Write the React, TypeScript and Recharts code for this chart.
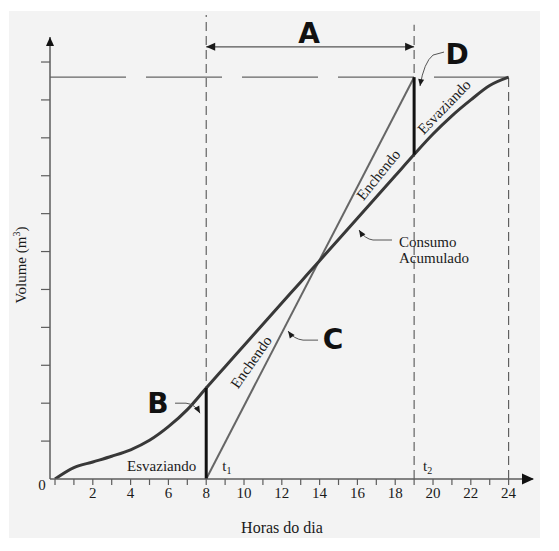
import {
  ComposedChart,
  Line,
  ReferenceDot,
  ReferenceLine,
  XAxis,
  YAxis,
} from "recharts";

// hours of the day and accumulated consumption (m3, arbitrary units of the y ticks)
const HOURS = [0, 1, 2, 3, 4, 5, 6, 7, 8, 9, 10, 11, 12, 13, 14, 15, 16, 17, 18, 19, 20, 21, 22, 23, 24];
const CONSUMO = [0, 0.3, 0.45, 0.6, 0.77, 1.02, 1.38, 1.83, 2.4, 2.96, 3.52, 4.08, 4.64, 5.2, 5.76, 6.32, 6.88, 7.44, 8.0, 8.56, 9.1, 9.58, 10.0, 10.38, 10.6];

// pumping (enchendo) between t1 and t2
const ENCH_HOURS = [8, 19];
const ENCH_VOLUME = [0, 10.6];

const X_LABELS = [2, 4, 6, 8, 10, 12, 14, 16, 18, 20, 22, 24];
const Y_TICKS = [1, 2, 3, 4, 5, 6, 7, 8, 9, 10, 11];

const T1 = 8;
const T2 = 19;
const END_HOUR = 24;
const MAX_VOLUME = 10.6;

const X_MIN = -0.265;
const X_MAX = 25.29;
const Y_MAX = 11.66;

const SERIF = "'Liberation Serif', 'Times New Roman', serif";
const HAND = "'DejaVu Sans', sans-serif";
const AXIS = "#5c5c5c";
const INK = "#1a1a1a";

const chartData = HOURS.map((h, i) => ({ h, consumo: CONSUMO[i] }));
const enchData = ENCH_HOURS.map((h, i) => ({ h, v: ENCH_VOLUME[i] }));
const consumoAt = (h: number) => CONSUMO[HOURS.indexOf(h)];

function head(x: number, y: number, ang: number, len = 8, half = 3.5) {
  const ca = Math.cos(ang);
  const sa = Math.sin(ang);
  const bx = x - len * ca;
  const by = y - len * sa;
  return `${x},${y} ${bx - half * sa},${by + half * ca} ${bx + half * sa},${by - half * ca}`;
}

function HourTick(props: any) {
  const { x, y, payload } = props;
  if (!X_LABELS.includes(payload.value)) return <g />;
  return (
    <text x={x} y={y} dy="0.71em" textAnchor="middle" fontSize={15} fontFamily={SERIF} fill={INK}>
      {payload.value}
    </text>
  );
}

// curved leader arrow, points relative to (cx, cy)
function leader(cx: number, cy: number, pts: number[][]) {
  const [a, b, c, t] = pts;
  const d = `M ${cx + a[0]} ${cy + a[1]} L ${cx + b[0]} ${cy + b[1]} Q ${cx + c[0]} ${cy + c[1]} ${cx + t[0]} ${cy + t[1]}`;
  const ang = Math.atan2(t[1] - c[1], t[0] - c[0]);
  return (
    <g>
      <path d={d} fill="none" stroke="#555" strokeWidth={1} />
      <polygon points={head(cx + t[0], cy + t[1], ang, 7, 3)} fill={INK} />
    </g>
  );
}

function Letter({ cx, cy, text }: { cx: number; cy: number; text: string }) {
  return (
    <text x={cx} y={cy} dy="0.36em" textAnchor="middle" fontSize={28} fontWeight={700} fontFamily={HAND} fill="#111">
      {text}
    </text>
  );
}

function RotLabel({ cx, cy, text, angle }: { cx: number; cy: number; text: string; angle: number }) {
  return (
    <text
      x={cx}
      y={cy}
      dy="0.35em"
      textAnchor="middle"
      fontSize={15}
      fontFamily={SERIF}
      fill={INK}
      transform={`rotate(${angle} ${cx} ${cy})`}
    >
      {text}
    </text>
  );
}

export default function App() {
  return (
    <div style={{ position: "relative", width: 543, height: 535 }}>
      <div
        style={{
          position: "absolute",
          left: 1,
          top: 3,
          width: 531,
          height: 527,
          background: "#f3f3f3",
        }}
      />
      <ComposedChart
        width={543}
        height={535}
        data={chartData}
        margin={{ top: 29, right: 18, bottom: 24, left: 0 }}
        style={{ position: "relative" }}
      >
        <XAxis
          dataKey="h"
          type="number"
          domain={[X_MIN, X_MAX]}
          allowDataOverflow
          ticks={HOURS}
          interval={0}
          tickSize={6}
          height={40}
          axisLine={{ stroke: AXIS, strokeWidth: 1.5 }}
          tickLine={{ stroke: AXIS, strokeWidth: 1.2 }}
          tick={<HourTick />}
          label={{
            content: (p: any) => (
              <text
                x={p.viewBox.x + 232}
                y={p.viewBox.y + 54}
                textAnchor="middle"
                fontSize={16}
                fontFamily={SERIF}
                fill={INK}
              >
                Horas do dia
              </text>
            ),
          }}
        />
        <YAxis
          type="number"
          domain={[0, Y_MAX]}
          allowDataOverflow
          ticks={Y_TICKS}
          width={42}
          tickSize={9}
          axisLine={{ stroke: AXIS, strokeWidth: 1.5 }}
          tickLine={{ stroke: AXIS, strokeWidth: 1.2 }}
          tick={() => <g />}
          label={{
            content: (p: any) => {
              const x = p.viewBox.x + 13;
              const y = p.viewBox.y + p.viewBox.height / 2 + 7;
              return (
                <text
                  x={x}
                  y={y}
                  dy="0.35em"
                  textAnchor="middle"
                  fontSize={15}
                  fontFamily={SERIF}
                  fill={INK}
                  transform={`rotate(-90 ${x} ${y})`}
                >
                  Volume (m<tspan dy={-6} fontSize={10}>3</tspan>
                  <tspan dy={6}>)</tspan>
                </text>
              );
            },
          }}
        />

        {/* reservoir capacity */}
        <ReferenceLine
          segment={[{ x: X_MIN, y: MAX_VOLUME }, { x: END_HOUR, y: MAX_VOLUME }]}
          stroke="#666"
          strokeWidth={1.2}
          strokeDasharray="76 20"
          ifOverflow="visible"
        />
        {/* t1, t2 and end of day */}
        <ReferenceLine
          segment={[{ x: T1, y: 0 }, { x: T1, y: 12.24 }]}
          stroke="#555"
          strokeWidth={1.1}
          strokeDasharray="9 5"
          ifOverflow="visible"
        />
        <ReferenceLine
          segment={[{ x: T2, y: 0 }, { x: T2, y: 11.98 }]}
          stroke="#555"
          strokeWidth={1.1}
          strokeDasharray="9 5"
          ifOverflow="visible"
        />
        <ReferenceLine
          segment={[{ x: END_HOUR, y: 0 }, { x: END_HOUR, y: MAX_VOLUME }]}
          stroke="#555"
          strokeWidth={1.1}
          strokeDasharray="9 5"
          ifOverflow="visible"
        />
        {/* A: pumping interval */}
        <ReferenceLine
          segment={[{ x: T1, y: 11.4 }, { x: T2, y: 11.4 }]}
          ifOverflow="visible"
          shape={(p: any) => (
            <g>
              <line x1={p.x1} y1={p.y1} x2={p.x2} y2={p.y2} stroke="#555" strokeWidth={1.2} />
              <polygon points={head(p.x1, p.y1, Math.PI, 9, 4)} fill={INK} />
              <polygon points={head(p.x2, p.y2, 0, 9, 4)} fill={INK} />
            </g>
          )}
        />

        <Line
          data={enchData}
          dataKey="v"
          type="linear"
          stroke="#666"
          strokeWidth={2}
          dot={false}
          isAnimationActive={false}
        />
        <Line
          dataKey="consumo"
          type="monotone"
          stroke="#383838"
          strokeWidth={3}
          dot={false}
          isAnimationActive={false}
        />

        {/* reservoir emptying at t1 and t2 */}
        <ReferenceLine
          segment={[{ x: T1, y: 0 }, { x: T1, y: consumoAt(T1) }]}
          stroke="#111"
          strokeWidth={3}
          ifOverflow="visible"
        />
        <ReferenceLine
          segment={[{ x: T2, y: consumoAt(T2) }, { x: T2, y: MAX_VOLUME }]}
          stroke="#111"
          strokeWidth={3}
          ifOverflow="visible"
        />

        {/* axis arrowheads */}
        <ReferenceDot
          x={X_MAX}
          y={0}
          r={0}
          ifOverflow="visible"
          shape={(p: any) => <polygon points={head(p.cx + 1, p.cy, 0, 12, 5.5)} fill="#111" />}
        />
        <ReferenceDot
          x={X_MIN}
          y={Y_MAX}
          r={0}
          ifOverflow="visible"
          shape={(p: any) => <polygon points={head(p.cx, p.cy, -Math.PI / 2, 9, 4)} fill="#111" />}
        />

        {/* texts */}
        <ReferenceDot
          x={0}
          y={0}
          r={0}
          ifOverflow="visible"
          shape={(p: any) => (
            <text x={p.cx - 13} y={p.cy + 11} textAnchor="middle" fontSize={15} fontFamily={SERIF} fill={INK}>
              0
            </text>
          )}
        />
        <ReferenceDot
          x={T1}
          y={0}
          r={0}
          ifOverflow="visible"
          shape={(p: any) => (
            <g fontSize={15} fontFamily={SERIF} fill={INK}>
              <text x={p.cx - 10} y={p.cy - 8} textAnchor="end">
                Esvaziando
              </text>
              <text x={p.cx + 16} y={p.cy - 8}>
                t<tspan dy={3} fontSize={10}>1</tspan>
              </text>
            </g>
          )}
        />
        <ReferenceDot
          x={T2}
          y={0}
          r={0}
          ifOverflow="visible"
          shape={(p: any) => (
            <text x={p.cx + 9} y={p.cy - 8} fontSize={15} fontFamily={SERIF} fill={INK}>
              t<tspan dy={3} fontSize={10}>2</tspan>
            </text>
          )}
        />
        <ReferenceDot
          x={10.37}
          y={3.09}
          r={0}
          ifOverflow="visible"
          shape={(p: any) => <RotLabel cx={p.cx} cy={p.cy} text="Enchendo" angle={-55} />}
        />
        <ReferenceDot
          x={17.1}
          y={8.03}
          r={0}
          ifOverflow="visible"
          shape={(p: any) => <RotLabel cx={p.cx} cy={p.cy} text="Enchendo" angle={-51} />}
        />
        <ReferenceDot
          x={20.58}
          y={9.82}
          r={0}
          ifOverflow="visible"
          shape={(p: any) => <RotLabel cx={p.cx} cy={p.cy} text="Esvaziando" angle={-46} />}
        />
        <ReferenceDot
          x={18.2}
          y={6.12}
          r={0}
          ifOverflow="visible"
          shape={(p: any) => (
            <g>
              <text x={p.cx} y={p.cy} fontSize={15} fontFamily={SERIF} fill={INK}>
                Consumo
              </text>
              <text x={p.cx} y={p.cy + 16} fontSize={15} fontFamily={SERIF} fill={INK}>
                Acumulado
              </text>
              {leader(p.cx, p.cy, [[-7, -7], [-26, -7], [-34, -8], [-40, -17]])}
            </g>
          )}
        />

        {/* big letters */}
        <ReferenceDot
          x={13.44}
          y={11.77}
          r={0}
          ifOverflow="visible"
          shape={(p: any) => <Letter cx={p.cx} cy={p.cy} text="A" />}
        />
        <ReferenceDot
          x={5.45}
          y={2.0}
          r={0}
          ifOverflow="visible"
          shape={(p: any) => (
            <g>
              <Letter cx={p.cx} cy={p.cy} text="B" />
              {leader(p.cx, p.cy, [[17, 0], [28, 0], [37, 1], [42, 10]])}
            </g>
          )}
        />
        <ReferenceDot
          x={14.71}
          y={3.69}
          r={0}
          ifOverflow="visible"
          shape={(p: any) => (
            <g>
              <Letter cx={p.cx} cy={p.cy} text="C" />
              {leader(p.cx, p.cy, [[-15, 1], [-30, 1], [-39, 0], [-45, -8]])}
            </g>
          )}
        />
        <ReferenceDot
          x={21.27}
          y={11.21}
          r={0}
          ifOverflow="visible"
          shape={(p: any) => (
            <g>
              <Letter cx={p.cx} cy={p.cy} text="D" />
              {leader(p.cx, p.cy, [[-13, -2], [-24, 1], [-33, 8], [-37, 32]])}
            </g>
          )}
        />
      </ComposedChart>
    </div>
  );
}
